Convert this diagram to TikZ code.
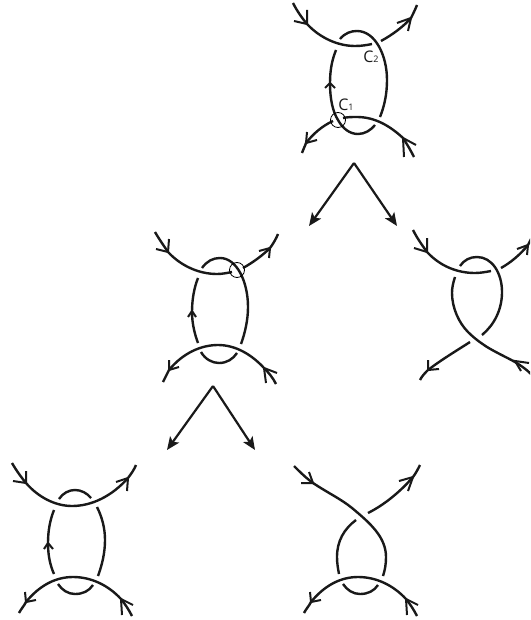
\documentclass[tikz,border=0pt]{standalone}
\usepackage{fontspec}
\setmainfont{Open Sans}
\usetikzlibrary{arrows.meta}
\tikzset{
    strand/.style={line width=2.4pt,black!90},
    barb/.style={line width=2pt,black!90},
    resolve/.style={line width=2.2pt,black!90,-{Stealth[length=13pt,width=11pt,inset=3pt]}},
    marker/.style={circle,draw,line width=0.8pt,minimum size=15pt,inner sep=0pt},
    crossing/.style={inner sep=0pt,font=\fontsize{16}{16}\selectfont,black!90}
}
\newcommand{\subidx}[1]{{\fontsize{9}{9}\selectfont #1}}
\newcommand{\barbs}[3]{\draw[barb] #2 -- #1 -- #3;}
\begin{document}
\begin{tikzpicture}[x=1pt,y=-1pt]
    \useasboundingbox (0,0) rectangle (530,620);
    \clip (0,0) rectangle (530,620);
    % Top diagram
    \draw[strand] (293,3) .. controls (297,11) and (302,18) .. (307,24) .. controls (320,38) and (338,46) .. (355,46) .. controls (362,46) and (367,45) .. (372,44);
    \draw[strand] (381,41) .. controls (392,35) and (403,27) .. (411,18) .. controls (413,14) and (415,10) .. (417,5);
    \draw[strand] (340,39) .. controls (345,33) and (351,31) .. (357,31) .. controls (375,31) and (387,55) .. (387,80) .. controls (387,95) and (384,107) .. (380,117);
    \draw[strand] (336,50) .. controls (332,60) and (330,70) .. (330,83) .. controls (330,100) and (333,112) .. (338,120) .. controls (343,129) and (350,134) .. (358,134) .. controls (365,134) and (371,130) .. (375,125);
    \draw[strand] (333,121) .. controls (322,126) and (313,134) .. (306,143) .. controls (305,146) and (303,150) .. (302,153);
    \draw[strand] (414,157) .. controls (411,151) and (407,144) .. (403,138) .. controls (390,126) and (375,117) .. (357,117) .. controls (352,117) and (348,117) .. (343,118);
    \barbs{(307,24)}{(294,21)}{(307,10)}
    \barbs{(411,18)}{(397,23)}{(408,31)}
    \barbs{(306,143)}{(307,132)}{(317,140)}
    \barbs{(403,138)}{(416,145)}{(404,157)}
    \barbs{(330,83)}{(325,88)}{(335,88)}
    \node[marker] (c1mark) at (338,120) {};
    \node[crossing] (c1) at (346,105) {C\subidx{1}};
    \node[crossing] (c2) at (371,57) {C\subidx{2}};
    % First resolution
    \coordinate (apexa) at (354,163);
    \coordinate (lefta) at (309,226);
    \coordinate (righta) at (397,226);
    \draw[resolve] (apexa) -- (lefta);
    \draw[resolve] (apexa) -- (righta);
    % Middle left diagram
    \draw[strand] (155,232) .. controls (159,239) and (164,246) .. (168,252) .. controls (181,266) and (199,274) .. (217,274) .. controls (222,274) and (227,273) .. (232,272);
    \draw[strand] (243,268) .. controls (252,263) and (262,256) .. (270,248) .. controls (273,244) and (276,239) .. (278,234);
    \draw[strand] (202,268) .. controls (207,261) and (213,258) .. (220,258) .. controls (237,258) and (248,282) .. (248,307) .. controls (248,320) and (245,333) .. (241,344);
    \draw[strand] (198,278) .. controls (194,288) and (192,300) .. (192,312) .. controls (192,324) and (195,335) .. (198,343);
    \draw[strand] (276,384) .. controls (273,378) and (269,373) .. (264,368) .. controls (252,355) and (236,345) .. (218,345) .. controls (201,345) and (183,353) .. (169,370) .. controls (167,374) and (165,378) .. (163,382);
    \draw[strand] (201,352) .. controls (205,359) and (212,363) .. (219,363) .. controls (227,363) and (233,359) .. (237,353);
    \barbs{(168,252)}{(156,249)}{(169,239)}
    \barbs{(270,248)}{(259,251)}{(269,258)}
    \barbs{(169,370)}{(169,360)}{(179,367)}
    \barbs{(264,368)}{(277,373)}{(266,383)}
    \barbs{(192,311)}{(188,317)}{(196,317)}
    \node[marker] (c2mark) at (237,270) {};
    % Middle right diagram
    \draw[strand] (413,230) .. controls (417,238) and (422,245) .. (427,252) .. controls (440,266) and (457,273) .. (475,273) .. controls (480,273) and (486,272) .. (491,271);
    \draw[strand] (501,268) .. controls (510,263) and (520,255) .. (528,245) .. controls (529,243) and (530,241) .. (531,239);
    \draw[strand] (460,266) .. controls (464,260) and (470,257) .. (477,257) .. controls (492,257) and (502,273) .. (502,292) .. controls (502,310) and (494,325) .. (482,335);
    \draw[strand] (455,277) .. controls (453,283) and (452,288) .. (452,293) .. controls (452,308) and (459,323) .. (468,332) .. controls (475,339) and (481,343) .. (487,347) .. controls (497,353) and (506,357) .. (515,362) .. controls (520,365) and (526,369) .. (531,374);
    \draw[strand] (470,342) .. controls (456,351) and (441,360) .. (428,370) .. controls (425,373) and (422,376) .. (420,380);
    \barbs{(427,252)}{(414,248)}{(427,238)}
    \barbs{(528,245)}{(517,249)}{(527,255)}
    \barbs{(428,370)}{(428,360)}{(439,369)}
    \barbs{(515,361)}{(529,363)}{(521,371)}
    % Second resolution
    \coordinate (apexb) at (213,386);
    \coordinate (leftb) at (167,450);
    \coordinate (rightb) at (255,450);
    \draw[resolve] (apexb) -- (leftb);
    \draw[resolve] (apexb) -- (rightb);
    % Bottom left diagram
    \draw[strand] (12,463) .. controls (16,470) and (21,477) .. (26,483) .. controls (38,497) and (55,506) .. (72,506) .. controls (92,506) and (112,496) .. (128,478) .. controls (131,474) and (134,470) .. (136,465);
    \draw[strand] (59,499) .. controls (63,493) and (69,490) .. (75,490) .. controls (81,490) and (87,493) .. (91,498);
    \draw[strand] (54,510) .. controls (50,520) and (48,531) .. (48,543) .. controls (48,555) and (50,565) .. (54,574);
    \draw[strand] (97,507) .. controls (102,517) and (105,528) .. (105,540) .. controls (105,553) and (102,565) .. (98,576);
    \draw[strand] (132,616) .. controls (129,610) and (125,604) .. (121,599) .. controls (108,585) and (91,577) .. (73,577) .. controls (55,577) and (39,586) .. (26,602) .. controls (24,606) and (21,609) .. (19,613);
    \draw[strand] (58,584) .. controls (62,590) and (68,594) .. (75,594) .. controls (83,594) and (89,591) .. (93,585);
    \barbs{(26,483)}{(13,481)}{(26,471)}
    \barbs{(128,478)}{(116,482)}{(127,491)}
    \barbs{(26,602)}{(25,592)}{(36,600)}
    \barbs{(121,599)}{(133,605)}{(122,615)}
    \barbs{(48,543)}{(44,549)}{(53,549)}
    % Bottom right diagram
    \draw[strand] (294,466) .. controls (300,472) and (306,478) .. (313,483) .. controls (328,493) and (341,499) .. (352,508) .. controls (370,523) and (386,537) .. (386,557) .. controls (386,564) and (385,570) .. (383,576);
    \draw[strand] (368,513) .. controls (384,505) and (400,492) .. (413,477) .. controls (416,473) and (418,469) .. (420,465);
    \draw[strand] (356,520) .. controls (344,529) and (337,541) .. (337,557) .. controls (337,563) and (338,569) .. (339,574);
    \draw[strand] (417,616) .. controls (414,610) and (410,604) .. (406,599) .. controls (393,585) and (376,577) .. (358,577) .. controls (340,577) and (324,586) .. (311,602) .. controls (309,606) and (306,609) .. (304,613);
    \draw[strand] (343,584) .. controls (347,590) and (353,594) .. (360,594) .. controls (368,594) and (374,591) .. (378,585);
    \barbs{(313,483)}{(301,483)}{(309,472)}
    \barbs{(413,477)}{(399,481)}{(408,491)}
    \barbs{(311,602)}{(310,592)}{(321,600)}
    \barbs{(406,599)}{(418,605)}{(407,615)}
\end{tikzpicture}
\end{document}
